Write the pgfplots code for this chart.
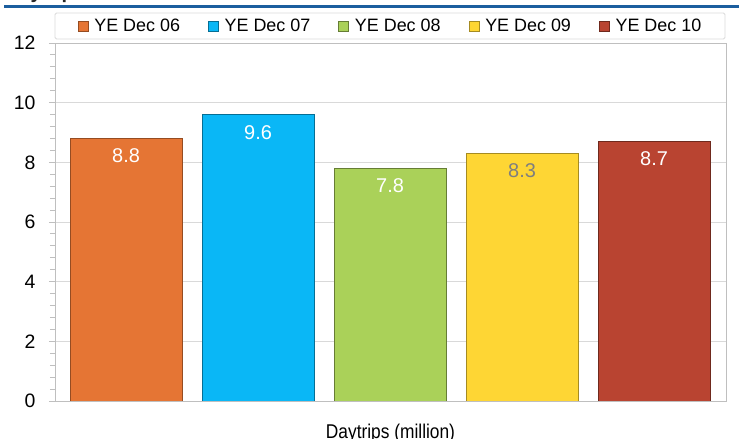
\documentclass[border=0pt]{standalone}
\usepackage{pgfplots}
\pgfplotsset{compat=1.18}
\usepackage{fontspec}
\setmainfont{Liberation Sans}
\newfontfamily\narrowfont[FakeStretch=0.87]{Liberation Sans}

\definecolor{cA}{HTML}{E57534}
\definecolor{cB}{HTML}{0AB7F6}
\definecolor{cC}{HTML}{AAD159}
\definecolor{cD}{HTML}{FED634}
\definecolor{cE}{HTML}{B94431}
\definecolor{titleblue}{HTML}{1B5E9E}
\definecolor{gridgray}{HTML}{D9D9D9}
\definecolor{axisgray}{HTML}{BFBFBF}
\definecolor{labelgray}{HTML}{7F7F7F}

\begin{document}
\begin{tikzpicture}
\useasboundingbox (-55bp,-38bp) rectangle (684bp,401bp);
% heading, mostly outside the page
\begin{scope}
\clip (-55bp,-38bp) rectangle (684bp,401bp);
\node[anchor=base west, inner sep=0pt, text=black!85,
      font=\bfseries\fontsize{20}{24}\selectfont] at (-50bp,402.5bp) {Daytrips};
\end{scope}
\fill[titleblue] (-51bp,393bp) rectangle (684bp,396bp);
% legend frame
\draw[gridgray, line width=0.9bp, rounded corners=1.5bp] (0bp,362bp) rectangle (670bp,388bp);

\begin{axis}[
  at={(0,0)}, anchor=south west,
  scale only axis, width=671bp, height=358bp,
  xmin=-0.538, xmax=4.545, ymin=0, ymax=12,
  ybar, bar width=0.85, bar shift=0pt,
  legend image code/.code={%
    \draw[#1, line width=0.8bp] (0bp,-5bp) rectangle (10bp,5bp);
    \path (14bp,0bp);},
  xtick=\empty,
  ytick={0,2,...,12},
  minor y tick num=4,
  ytick pos=left,
  ymajorgrids,
  grid style={draw=gridgray, line width=0.9bp},
  axis line style={draw=axisgray, line width=0.9bp},
  tick style={draw=axisgray, line width=0.9bp},
  tick align=outside, major tick length=6bp, minor tick length=5bp,
  /pgf/number format/assume math mode=true,
  yticklabel style={font=\fontsize{19.5}{22}\selectfont, text=black, xshift=-10bp},
  xlabel={Daytrips (million)},
  xlabel style={font=\narrowfont\fontsize{20}{22}\selectfont, at={(axis description cs:0.5,0)},
                anchor=base, inner sep=0pt, yshift=-37bp},
  nodes near coords={\pgfmathprintnumber[fixed,fixed zerofill,precision=1]{\pgfplotspointmeta}},
  every node near coord/.append style={anchor=north, yshift=-7bp, text=white,
                font=\fontsize{20}{22}\selectfont},
  legend columns=5,
  legend style={draw=none, fill=none, at={(axis description cs:0.5,1)}, anchor=center,
                yshift=17bp, font=\fontsize{18}{20}\selectfont, nodes={inner sep=2bp},
                /tikz/every even column/.append style={column sep=26bp}},
]
\addplot[fill=cA, draw=cA!65!black] coordinates {(0,8.8)};
\addplot[fill=cB, draw=cB!60!black] coordinates {(1,9.6)};
\addplot[fill=cC, draw=cC!60!black] coordinates {(2,7.8)};
\addplot[fill=cD, draw=cD!65!black, every node near coord/.append style={text=labelgray}] coordinates {(3,8.3)};
\addplot[fill=cE, draw=cE!60!black] coordinates {(4,8.7)};
\legend{YE Dec 06, YE Dec 07, YE Dec 08, YE Dec 09, YE Dec 10}
\end{axis}
\end{tikzpicture}
\end{document}
